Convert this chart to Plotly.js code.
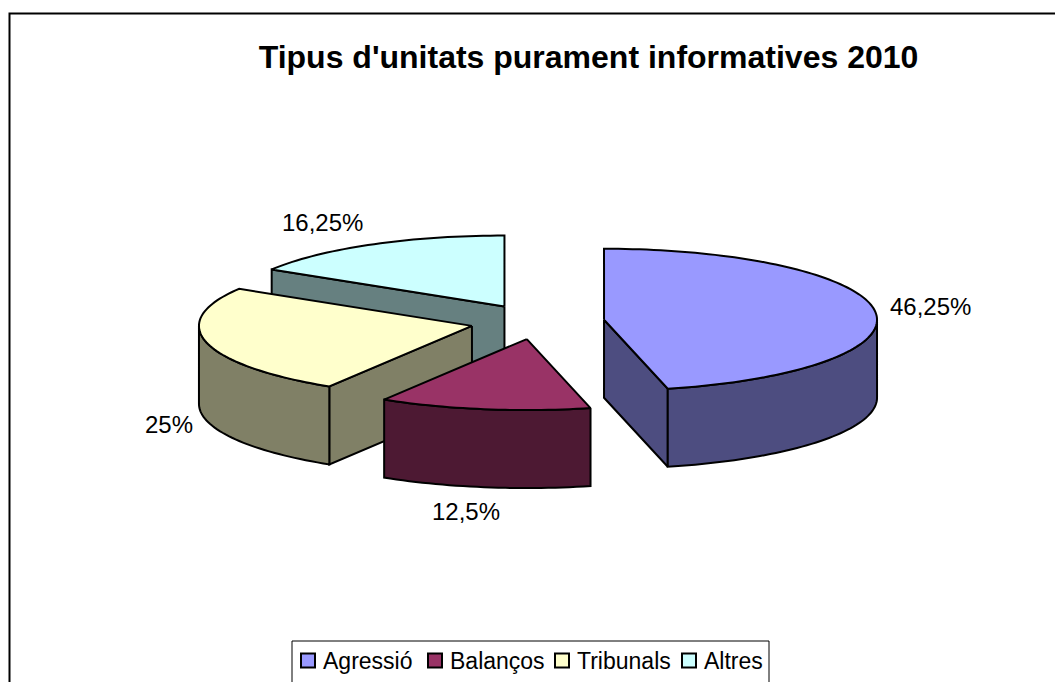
<!DOCTYPE html>
<html>
<head>
<meta charset="utf-8">
<script src="https://cdn.plot.ly/plotly-3.0.1.min.js"></script>
<style>html,body{margin:0;padding:0;background:#fff;overflow:hidden}</style>
</head>
<body>
<div id="chart" style="width:1055px;height:682px"></div>
<script>
const categories = ["Agressió", "Balanços", "Tribunals", "Altres"];
const shares = [46.25, 12.5, 25, 16.25];
const shareLabels = ["46,25%", "12,5%", "25%", "16,25%"];
const topColors = ["#9999FF", "#993366", "#FFFFCC", "#CCFFFF"];
const wallColors = ["#4D4D80", "#4D1933", "#808066", "#668080"];
const chartTitle = "Tipus d'unitats purament informatives 2010";

// projection of the tilted pie, in page pixels
const pie = {cx: 537.3, cy: 321.8, rx: 273, ry: 71, depth: 78, explode: 67.2};
const labelAnchors = [[930, 306.5], [466, 511.5], [169, 424.5], [322, 222.5]];
const FONT = "Liberation Sans, Arial, sans-serif";
const rad = d => d * Math.PI / 180;

const total = shares.reduce((a, b) => a + b, 0);
let cursor = 0;
const slices = shares.map((v, i) => {
  const start = cursor, end = cursor + v / total * 360;
  cursor = end;
  const mid = rad((start + end) / 2);
  return {i, start, end,
    ax: pie.cx + pie.explode * Math.sin(mid),
    ay: pie.cy - pie.explode * Math.cos(mid) * pie.ry / pie.rx};
});
function rim(s, deg, drop) {
  return [s.ax + pie.rx * Math.sin(rad(deg)),
          s.ay - pie.ry * Math.cos(rad(deg)) + (drop || 0)];
}
function arc(s, a, b, drop) {
  const n = Math.max(2, Math.ceil(Math.abs(b - a) / 1.5)), out = [];
  for (let k = 0; k <= n; k++) out.push(rim(s, a + (b - a) * k / n, drop));
  return out;
}
function poly(pts, fill, name) {
  return {type: "scatter", mode: "lines", x: pts.map(p => p[0]), y: pts.map(p => p[1]),
    fill: "toself", fillcolor: fill, line: {color: "#000", width: 2, simplify: false},
    hoverinfo: "skip", showlegend: false, name: name};
}
function cutWall(s, deg, c) {
  const o = rim(s, deg);
  return poly([[s.ax, s.ay], o, [o[0], o[1] + pie.depth], [s.ax, s.ay + pie.depth], [s.ax, s.ay]], c, categories[s.i]);
}
const traces = [];
[3, 2, 1, 0].forEach(idx => {
  const s = slices[idx], c = wallColors[idx], nm = categories[idx];
  if (Math.sin(rad(s.start)) < -1e-6) traces.push(cutWall(s, s.start, c));
  if (Math.sin(rad(s.end)) > 1e-6) traces.push(cutWall(s, s.end, c));
  const a = Math.max(s.start, 90), b = Math.min(s.end, 270);
  if (b > a) {
    const pts = arc(s, a, b).concat(arc(s, b, a, pie.depth));
    pts.push(pts[0]);
    traces.push(poly(pts, c, nm));
  }
  const top = [[s.ax, s.ay]].concat(arc(s, s.start, s.end));
  top.push([s.ax, s.ay]);
  traces.push(poly(top, topColors[idx], nm));
});
// legend entries
categories.forEach((name, i) => traces.push({
  type: "scatter", mode: "markers", x: [null], y: [null], name: name,
  marker: {symbol: "square", size: 14, color: topColors[i], line: {color: "#000", width: 2}},
  hoverinfo: "skip", showlegend: true
}));

const layout = {
  width: 1055, height: 682,
  margin: {l: 0, r: 0, t: 0, b: 0},
  paper_bgcolor: "#fff", plot_bgcolor: "#fff",
  font: {family: FONT, color: "#000"},
  title: {text: "<b>" + chartTitle + "</b>", x: 588.5 / 1055, xanchor: "center",
          y: 1 - 57 / 682, yanchor: "middle", yref: "container",
          font: {family: FONT, size: 32, color: "#000"}},
  xaxis: {range: [0, 1055], visible: false, fixedrange: true},
  yaxis: {range: [682, 0], visible: false, fixedrange: true},
  hovermode: false,
  showlegend: true,
  legend: {orientation: "h", x: 288 / 1055, xanchor: "left", y: 1 - 639 / 682, yanchor: "top",
           font: {family: FONT, size: 23, color: "#000"},
           entrywidth: 82, entrywidthmode: "pixels",
           bgcolor: "rgba(0,0,0,0)", borderwidth: 0, itemwidth: 30, itemclick: false, itemdoubleclick: false},
  shapes: [
    {type: "path", xref: "x", yref: "y", path: "M9.5,682 L9.5,13.5 L1055,13.5", line: {color: "#000", width: 2}},
    {type: "path", xref: "x", yref: "y", path: "M292,682 L292,641 L769,641 L769,682", line: {color: "#000", width: 1}}
  ],
  annotations: shareLabels.map((t, i) => ({
    text: t, xref: "x", yref: "y", x: labelAnchors[i][0], y: labelAnchors[i][1],
    xanchor: "center", yanchor: "middle", showarrow: false,
    font: {family: FONT, size: 24, color: "#000"}
  }))
};
Plotly.newPlot("chart", traces, layout, {displayModeBar: false, staticPlot: true}).then(() => {
  // the reference keeps legend text closer to its swatch than Plotly's default gap
  document.querySelectorAll("#chart .legendtext").forEach(t => {
    t.setAttribute("x", +t.getAttribute("x") - 5);
  });
});
</script>
</body>
</html>
